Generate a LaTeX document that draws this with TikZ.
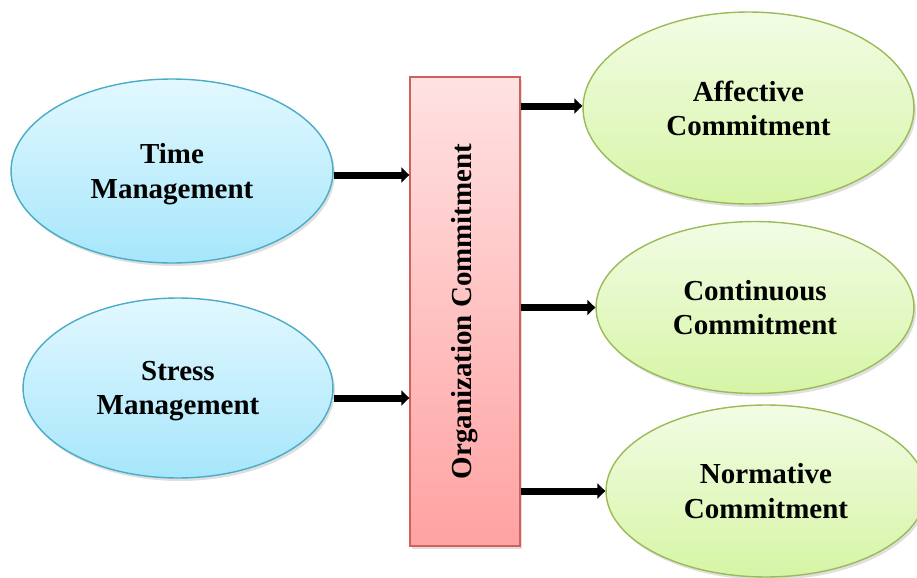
\documentclass[tikz,border=0pt]{standalone}
\usepackage{fontspec}
\setmainfont{Liberation Serif}
\usetikzlibrary{arrows.meta,shadows,shapes.geometric}

\definecolor{blueline}{HTML}{4BACC6}
\definecolor{bluetop}{HTML}{E2F8FF}
\definecolor{bluebot}{HTML}{A6E6FB}
\definecolor{greenline}{HTML}{9BBB59}
\definecolor{greentop}{HTML}{F2FCE4}
\definecolor{greenbot}{HTML}{D6F5A6}
\definecolor{redline}{HTML}{D0605C}
\definecolor{redtop}{HTML}{FFE2E2}
\definecolor{redbot}{HTML}{FFA2A2}

\begin{document}
\begin{tikzpicture}[
    x=0.02cm, y=-0.02cm,
    every node/.style={font=\fontsize{16.5}{19.5}\selectfont\bfseries, align=center},
    soft shadow/.style={drop shadow={opacity=0.25, shadow xshift=0.04cm, shadow yshift=-0.06cm}},
    cause/.style={ellipse, draw=blueline, line width=0.8pt, top color=bluetop, bottom color=bluebot,
        inner sep=0pt, text depth=0pt, soft shadow},
    effect/.style={ellipse, draw=greenline, line width=0.8pt, top color=greentop, bottom color=greenbot,
        inner sep=0pt, text depth=0pt, soft shadow},
    bar/.style={rectangle, draw=redline, line width=0.8pt, top color=redtop, bottom color=redbot,
        minimum width=2.2cm, minimum height=9.38cm, inner sep=0pt, soft shadow},
    arr/.style={-{Triangle[length=0.16cm, width=0.3cm]}, line width=0.14cm, black}
]
\useasboundingbox (0,0) rectangle (917,578);
\clip (0,0) rectangle (917,578);

% Left side
\node[cause, minimum width=6.44cm, minimum height=3.68cm] (tm) at (172,171) {Time\\Management};
\node[cause, minimum width=6.2cm, minimum height=3.6cm] (sm) at (178,388) {Stress\\Management};

% Middle bar
\node[bar] (oc) at (465,311.5) {};
\node[rotate=90] (octext) at (oc.center) {Organization Commitment};

% Right side
\node[effect, minimum width=6.62cm, minimum height=3.84cm] (ac) at (748.5,108) {Affective\\Commitment};
\node[effect, minimum width=6.36cm, minimum height=3.44cm] (cc) at (755,307.5) {Continuous\\Commitment};
\node[effect, minimum width=6.4cm, minimum height=3.44cm] (nc) at (766,491) {Normative\\Commitment};

% Arrows
\draw[arr] (tm.east |- 0,175) -- (oc.west |- 0,175);
\draw[arr] (sm.east |- 0,398) -- (oc.west |- 0,398);
\draw[arr] (oc.east |- 0,106) -- (ac.west |- 0,106);
\draw[arr] (oc.east |- cc.west) -- (cc.west);
\draw[arr] (oc.east |- nc.west) -- (nc.west);
\end{tikzpicture}
\end{document}
